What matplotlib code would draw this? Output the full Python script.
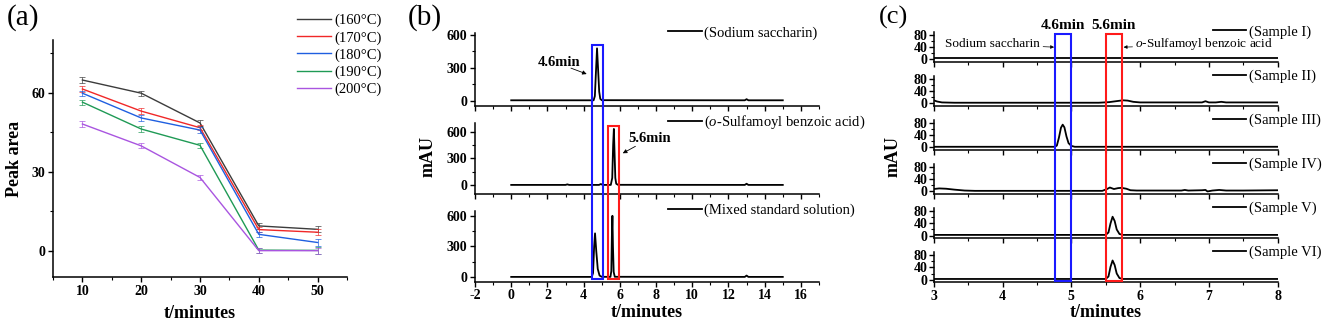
import matplotlib
matplotlib.use("Agg")
import matplotlib.pyplot as plt
from matplotlib.ticker import MultipleLocator
from matplotlib.patches import Rectangle

plt.rcParams['font.family'] = ['Liberation Serif', 'DejaVu Serif']
plt.rcParams['mathtext.fontset'] = 'custom'
plt.rcParams['mathtext.it'] = 'Liberation Serif:italic'
plt.rcParams['mathtext.rm'] = 'Liberation Serif'
plt.rcParams['axes.unicode_minus'] = False

# ---- panel (a) data ----
extract_time = [10, 20, 30, 40, 50]
temps = ["(160°C)", "(170°C)", "(180°C)", "(190°C)", "(200°C)"]
temp_colors = ["#3c3c3c", "#f02828", "#1f5fe0", "#1f9a55", "#a955e0"]
area_160 = [64.8, 59.8, 48.5, 9.4, 8.1]
area_170 = [61.4, 53.0, 46.7, 8.0, 7.0]
area_180 = [59.8, 50.4, 45.8, 6.2, 3.1]
area_190 = [56.4, 46.2, 40.0, 0.2, 0.1]
area_200 = [48.1, 39.8, 27.8, 0.0, 0.0]
area_err = [1.0, 1.0, 1.0, 1.0, 1.2]

# ---- panel (b) data ----
std_labels = ["(Sodium saccharin)", "($\\it{o}$-Sulfamoyl benzoic acid)", "(Mixed standard solution)"]
t_sac = [0, 4.0, 4.55, 4.62, 4.68, 4.74, 4.8, 4.86, 4.92, 5.0, 12.9, 13.0, 13.1, 15]
y_sac = [2, 2, 2, 40, 260, 475, 280, 80, 15, 3, 2, 12, 2, 2]
t_osb = [0, 3.0, 3.1, 3.2, 4.85, 4.95, 5.05, 5.5, 5.58, 5.63, 5.67, 5.71, 5.75, 5.8, 5.9, 12.9, 13.0, 13.1, 15]
y_osb = [2, 2, 8, 2, 2, 12, 2, 2, 80, 450, 630, 350, 80, 15, 3, 2, 15, 2, 2]
t_mix = [0, 4.45, 4.52, 4.58, 4.63, 4.7, 4.78, 4.88, 5.0, 5.48, 5.53, 5.56, 5.59, 5.62, 5.66, 5.72, 12.9, 13.0, 13.1, 15]
y_mix = [2, 2, 40, 300, 428, 250, 80, 15, 3, 2, 60, 400, 600, 300, 50, 3, 2, 15, 2, 2]
b_ylims = [(-50, 615), (-100, 700), (-45, 650)]

# ---- panel (c) data ----
sample_labels = ["(Sample I)", "(Sample II)", "(Sample III)", "(Sample IV)", "(Sample V)", "(Sample VI)"]
t_s1 = [3, 4.5, 6, 8]
y_s1 = [3, 3, 3, 3]
t_s2 = [3.0, 3.05, 3.12, 3.3, 5.4, 5.55, 5.65, 5.75, 5.82, 5.9, 6.0, 6.9, 6.95, 7.0, 7.1, 7.18, 7.25, 8.0]
y_s2 = [10, 6, 3, 2, 2, 4, 7, 10, 9, 5, 3, 3, 7, 3, 3, 5, 3, 3]
t_s3 = [3, 4.76, 4.79, 4.82, 4.85, 4.875, 4.9, 4.93, 4.96, 5.0, 5.05, 8]
y_s3 = [2, 2, 6, 32, 65, 75, 66, 36, 14, 5, 2, 2]
t_s4 = [3.0, 3.08, 3.18, 3.3, 3.45, 3.6, 5.45, 5.52, 5.56, 5.62, 5.68, 5.73, 5.8, 5.86, 5.95,
        6.6, 6.65, 6.7, 6.9, 6.95, 6.98, 7.05, 7.15, 7.25, 7.5, 8.0]
y_s4 = [8, 10, 9, 6, 3, 2, 2, 8, 13, 8, 11, 12, 9, 4, 3, 3, 5, 3, 4, 5, 0, 3, 5, 3, 3, 4]
t_s5 = [3, 5.5, 5.54, 5.57, 5.6, 5.63, 5.66, 5.7, 5.75, 8]
y_s5 = [2, 2, 10, 40, 62, 48, 20, 5, 2, 2]
t_s6 = [3, 5.5, 5.54, 5.57, 5.6, 5.63, 5.66, 5.7, 5.75, 8]
y_s6 = [2, 2, 10, 42, 63, 48, 20, 5, 2, 2]

W, H = 1325, 324
fig = plt.figure(figsize=(W / 100, H / 100), dpi=100)


def box(l, t, r, b):
    return [l / W, 1 - b / H, (r - l) / W, (b - t) / H]


def style(ax, size=10):
    for s in ["top", "right"]:
        ax.spines[s].set_visible(False)
    for s in ["left", "bottom"]:
        ax.spines[s].set_linewidth(1.1)
    ax.tick_params(which="major", direction="out", length=3.5, width=1.0, labelsize=size, pad=2)
    ax.tick_params(which="minor", direction="out", length=2, width=0.8)
    for lab in ax.get_xticklabels() + ax.get_yticklabels():
        lab.set_fontweight("bold")


arrow = dict(arrowstyle="-|>", color="black", lw=0.6, mutation_scale=6, shrinkA=0, shrinkB=0)

# ---------------- (a) ----------------
ax = fig.add_axes(box(53, 40, 347, 277))
for vals, lab, col in zip([area_160, area_170, area_180, area_190, area_200], temps, temp_colors):
    ax.plot(extract_time, vals, color=col, lw=1.0, label=lab)
    ax.errorbar(extract_time, vals, yerr=area_err, fmt="none", ecolor=col, elinewidth=0.6,
                capsize=2, capthick=0.6, alpha=0.8)
ax.set_xlim(5, 55)
ax.set_ylim(-10, 80)
ax.set_xticks([10, 20, 30, 40, 50])
ax.set_yticks([0, 30, 60])
ax.xaxis.set_minor_locator(MultipleLocator(5))
ax.yaxis.set_minor_locator(MultipleLocator(15))
style(ax)
ax.set_xlabel("t/minutes", fontsize=13, fontweight="bold", labelpad=5)
ax.set_ylabel("Peak area", fontsize=13, fontweight="bold", labelpad=6)
ax.legend(loc="upper left", bbox_to_anchor=(297 / W, 1 - 14 / H), bbox_transform=fig.transFigure,
          frameon=False, fontsize=10.5, handlelength=2.3, handletextpad=0.25, labelspacing=0.25,
          borderpad=0, borderaxespad=0)
fig.text(23 / W, 1 - 18 / H, "(a)", fontsize=21, ha="center", va="center")

# ---------------- (b) ----------------
b_boxes = [(475, 33, 819, 106), (475, 122.7, 819, 194), (475, 210.7, 819, 281.7)]
b_axes = []
for i, (tt, yy) in enumerate([(t_sac, y_sac), (t_osb, y_osb), (t_mix, y_mix)]):
    axb = fig.add_axes(box(*b_boxes[i]))
    axb.plot(tt, yy, color="black", lw=1.3, label=std_labels[i])
    axb.set_xlim(-2, 17)
    axb.set_ylim(*b_ylims[i])
    axb.set_xticks(range(-2, 17, 2))
    axb.xaxis.set_minor_locator(MultipleLocator(1))
    axb.set_yticks([0, 300, 600])
    axb.yaxis.set_minor_locator(MultipleLocator(150))
    if i < 2:
        axb.tick_params(labelbottom=False)
    style(axb)
    axb.legend(loc="center left", bbox_to_anchor=((668 - 475) / 344, 1.0), frameon=False,
               fontsize=10.5, handlelength=2.3, handletextpad=0.2, borderpad=0, borderaxespad=0)
    b_axes.append(axb)
b_axes[-1].set_xlabel("t/minutes", fontsize=13, fontweight="bold", labelpad=1)
fig.text(428 / W, 1 - 157 / H, "mAU", fontsize=13, fontweight="bold", rotation=90,
         ha="center", va="center")
fig.text(425 / W, 1 - 18 / H, "(b)", fontsize=21, ha="center", va="center")

b_axes[0].text(2.64, 343, "4.6min", fontsize=10.5, fontweight="bold", ha="center", va="center")
b_axes[0].annotate("", xy=(4.17, 241), xytext=(3.3, 295), arrowprops=arrow)
b_axes[1].text(7.67, 525, "5.6min", fontsize=10.5, fontweight="bold", ha="center", va="center")
b_axes[1].annotate("", xy=(6.16, 357), xytext=(6.86, 435), arrowprops=arrow)


def span_rect(ax_top, ax_bot, x0, x1, ytop, ybot, color, lw=1.5):
    inv = fig.transFigure.inverted()
    p0 = inv.transform(ax_bot.transData.transform((x0, ybot)))
    p1 = inv.transform(ax_top.transData.transform((x1, ytop)))
    fig.patches.append(Rectangle(p0, p1[0] - p0[0], p1[1] - p0[1], fill=False, edgecolor=color,
                                 lw=lw, transform=fig.transFigure, zorder=5))


span_rect(b_axes[0], b_axes[2], 4.45, 5.09, 505, -20, "#1a1aff")
span_rect(b_axes[1], b_axes[2], 5.37, 5.96, 665, -20, "#ff1a1a")

# ---------------- (c) ----------------
c_axes = []
traces = [(t_s1, y_s1), (t_s2, y_s2), (t_s3, y_s3), (t_s4, y_s4), (t_s5, y_s5), (t_s6, y_s6)]
for i, (tt, yy) in enumerate(traces):
    top = 32 + 44.06 * i
    axc = fig.add_axes(box(933.7, top, 1277.7, top + 30))
    axc.plot(tt, yy, color="black", lw=1.3, label=sample_labels[i])
    axc.set_xlim(3, 8)
    axc.set_ylim(-9, 90)
    axc.set_xticks([3, 4, 5, 6, 7, 8])
    axc.xaxis.set_minor_locator(MultipleLocator(0.5))
    axc.set_yticks([0, 40, 80])
    axc.yaxis.set_minor_locator(MultipleLocator(20))
    if i < 5:
        axc.tick_params(labelbottom=False)
    style(axc, size=10)
    axc.tick_params(axis="y", pad=1)
    axc.legend(loc="center left", bbox_to_anchor=((1212.7 - 933.7) / 344, 1.0), frameon=False,
               fontsize=10.5, handlelength=2.3, handletextpad=0.2, borderpad=0, borderaxespad=0)
    c_axes.append(axc)
c_axes[-1].set_xlabel("t/minutes", fontsize=13, fontweight="bold", labelpad=1)
fig.text(893 / W, 1 - 157 / H, "mAU", fontsize=13, fontweight="bold", rotation=90,
         ha="center", va="center")
fig.text(893 / W, 1 - 17 / H, "(c)", fontsize=19, ha="center", va="center")

span_rect(c_axes[0], c_axes[5], 4.76, 5.0, 85, -4, "#1a1aff")
span_rect(c_axes[0], c_axes[5], 5.5, 5.74, 85, -4, "#ff1a1a")
c_axes[0].text(4.88, 113, "4.6min", fontsize=11, fontweight="bold", ha="center", va="center")
c_axes[0].text(5.62, 113, "5.6min", fontsize=11, fontweight="bold", ha="center", va="center")
c_axes[0].annotate("Sodium saccharin", xy=(4.75, 40), xytext=(4.55, 49), fontsize=9.5,
                   ha="right", va="center", arrowprops=dict(arrow, lw=0.5, mutation_scale=5))
c_axes[0].annotate("$\\it{o}$-Sulfamoyl benzoic acid", xy=(5.76, 40), xytext=(5.93, 49),
                   fontsize=9.5, ha="left", va="center",
                   arrowprops=dict(arrow, lw=0.5, mutation_scale=5))

fig.savefig("out.png", dpi=100)
